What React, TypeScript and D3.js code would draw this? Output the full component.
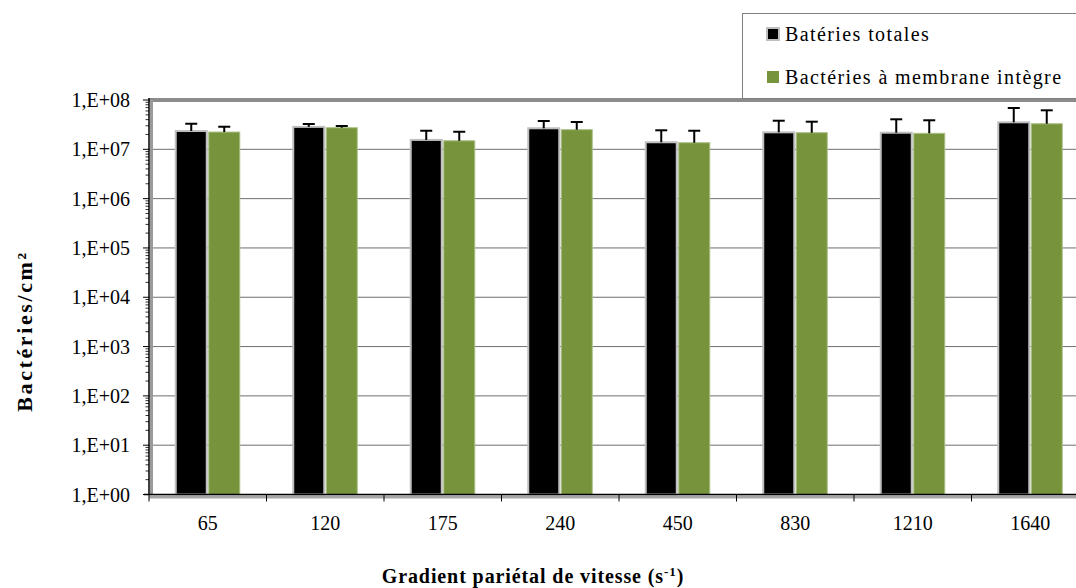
import React from "react";
import * as d3 from "d3";

const categories = ["65", "120", "175", "240", "450", "830", "1210", "1640"];
const seriesNames = ["Batéries totales", "Bactéries à membrane intègre"];
const totalValues = [2.35e7, 2.85e7, 1.55e7, 2.67e7, 1.39e7, 2.21e7, 2.17e7, 3.53e7];
const totalErrors = [0.95e7, 0.41e7, 0.83e7, 1.08e7, 1.04e7, 1.59e7, 1.89e7, 3.35e7];
const intactValues = [2.24e7, 2.74e7, 1.49e7, 2.5e7, 1.36e7, 2.17e7, 2.11e7, 3.3e7];
const intactErrors = [0.63e7, 0.23e7, 0.78e7, 1.08e7, 1.02e7, 1.46e7, 1.77e7, 2.88e7];
const yTickValues = [1, 1e1, 1e2, 1e3, 1e4, 1e5, 1e6, 1e7, 1e8];
const yTickLabels = ["1,E+00", "1,E+01", "1,E+02", "1,E+03", "1,E+04", "1,E+05", "1,E+06", "1,E+07", "1,E+08"];

const FONT = "'Liberation Serif', serif";

export default function App() {
  const W = 1076;
  const H = 588;
  const left = 149;
  const top = 100;
  const bottom = 494.5;
  const right = left + 8 * 117.5;

  const x = d3.scaleBand<string>().domain(categories).range([left, right]).padding(0);
  const y = d3.scaleLog().domain([1, 1e8]).range([bottom, top]);
  const barW = 33;

  const series = [
    { name: seriesNames[0], values: totalValues, errors: totalErrors, fill: "#000000", stroke: "#bfbfbf" },
    { name: seriesNames[1], values: intactValues, errors: intactErrors, fill: "#77933c", stroke: "#a9bf83" },
  ];

  const minorTicks: number[] = [];
  for (let e = 0; e < 8; e++) {
    for (let m = 2; m <= 9; m++) minorTicks.push(m * Math.pow(10, e));
  }

  const visRight = W;

  return (
    <svg width={W} height={H} style={{ position: "absolute", left: 0, top: 0, background: "#fff" }}>
      {/* gridlines */}
      {yTickValues.slice(1, 8).map((v) => (
        <line key={"g" + v} x1={left} x2={visRight} y1={y(v)} y2={y(v)} stroke="#6f6f6f" strokeWidth={1} />
      ))}
      {/* top wall border */}
      <line x1={left} x2={visRight} y1={top} y2={top} stroke="#8c8c8c" strokeWidth={4} />
      {/* left wall strip */}
      <line x1={left + 2.5} x2={left + 2.5} y1={top} y2={bottom} stroke="#9a9a9a" strokeWidth={3} />
      {/* floor strip */}
      <line x1={left} x2={visRight} y1={bottom + 2.5} y2={bottom + 2.5} stroke="#a6a6a6" strokeWidth={3} />

      {/* bars */}
      {categories.map((c, i) => {
        const cx = (x(c) as number) + x.bandwidth() / 2;
        return (
          <g key={c}>
            {series.map((s, si) => {
              const x0 = cx - barW + si * barW;
              const yv = y(s.values[i]);
              return (
                <rect key={si} x={x0 + 1} y={yv} width={barW - 2} height={bottom - yv} fill={s.fill} stroke={s.stroke} strokeWidth={si === 0 ? 2 : 1} />
              );
            })}
          </g>
        );
      })}
      {/* error bars */}
      {categories.map((c, i) => {
        const cx = (x(c) as number) + x.bandwidth() / 2;
        return (
          <g key={"e" + c}>
            {series.map((s, si) => {
              const bx = cx - barW / 2 + si * barW;
              const y0 = y(s.values[i]);
              const y1 = y(s.values[i] + s.errors[i]);
              return (
                <g key={si}>
                  <line x1={bx} x2={bx} y1={y0} y2={y1} stroke="#000" strokeWidth={2} />
                  <line x1={bx - 6} x2={bx + 6} y1={y1} y2={y1} stroke="#000" strokeWidth={2} />
                </g>
              );
            })}
          </g>
        );
      })}

      {/* axes */}
      <line x1={left} x2={left} y1={top - 2} y2={bottom} stroke="#000" strokeWidth={1.5} />
      <line x1={left - 5} x2={visRight} y1={bottom} y2={bottom} stroke="#000" strokeWidth={1.5} />
      {yTickValues.map((v) => (
        <line key={"t" + v} x1={left - 6} x2={left} y1={y(v)} y2={y(v)} stroke="#000" strokeWidth={1} />
      ))}
      {minorTicks.map((v) => (
        <line key={"m" + v} x1={left - 3.5} x2={left} y1={y(v)} y2={y(v)} stroke="#000" strokeWidth={0.8} />
      ))}
      {categories.map((c) => (
        <line key={"xt" + c} x1={x(c) as number} x2={x(c) as number} y1={bottom} y2={bottom + 7} stroke="#000" strokeWidth={1} />
      ))}
      {yTickValues.map((v, i) => (
        <text key={"yl" + v} x={130} y={y(v)} dy="0.35em" textAnchor="end" fontFamily={FONT} fontSize={20} fill="#000">
          {yTickLabels[i]}
        </text>
      ))}
      {categories.map((c) => (
        <text key={"xl" + c} x={(x(c) as number) + x.bandwidth() / 2} y={523} dy="0.35em" textAnchor="middle" fontFamily={FONT} fontSize={20} fill="#000">
          {c}
        </text>
      ))}

      {/* axis titles */}
      <text x={533} y={583} textAnchor="middle" fontFamily={FONT} fontSize={20} fontWeight="bold" fill="#000" letterSpacing={0.9}>
        Gradient pariétal de vitesse (s
        <tspan dy={-7} fontSize={13}>-1</tspan>
        <tspan dy={7}>)</tspan>
      </text>
      <text transform={`translate(32,331) rotate(-90)`} textAnchor="middle" fontFamily={FONT} fontSize={22} fontWeight="bold" fill="#000" letterSpacing={2.6}>
        Bactéries/cm²
      </text>

      {/* legend */}
      <rect x={742.5} y={13.5} width={345} height={85} fill="#fff" stroke="#7f7f7f" strokeWidth={1} />
      <rect x={767} y={28} width={12} height={12} fill="#000" stroke="#bfbfbf" strokeWidth={2} />
      <text x={785} y={34} dy="0.35em" fontFamily={FONT} fontSize={20} fill="#000" letterSpacing={1.4}>
        {seriesNames[0]}
      </text>
      <rect x={767} y={71} width={12} height={12} fill="#77933c" />
      <text x={785} y={77} dy="0.35em" fontFamily={FONT} fontSize={20} fill="#000" letterSpacing={1.4}>
        {seriesNames[1]}
      </text>
    </svg>
  );
}
